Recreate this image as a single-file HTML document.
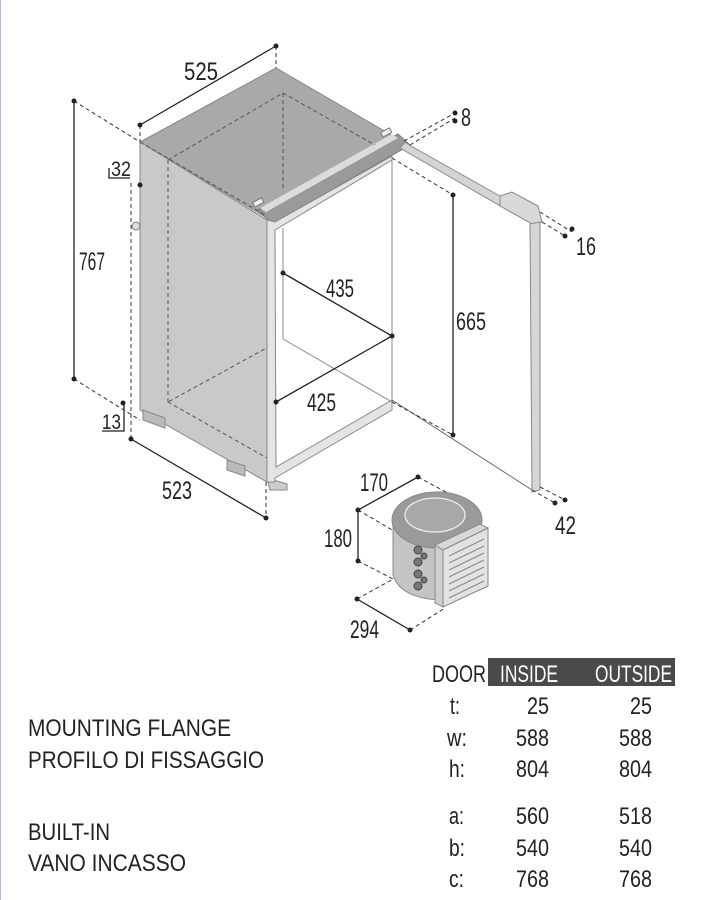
<!DOCTYPE html>
<html><head><meta charset="utf-8"><style>
html,body{margin:0;padding:0;background:#fff;width:702px;height:900px;overflow:hidden}
svg{display:block}
text{font-family:"Liberation Sans",sans-serif;fill:#222}
</style></head><body>
<svg width="702" height="900" viewBox="0 0 702 900" xmlns="http://www.w3.org/2000/svg">
<line x1="0.5" y1="0" x2="0.5" y2="900" stroke="#b8bcd0" stroke-width="1"/>
<polygon points="140,142 267,220 267,482 140,410" fill="#c9c9c9" stroke="#888" stroke-width="1"/>
<polygon points="143,410 165,418 165,428 143,420" fill="#bbb" stroke="#888"/>
<polygon points="227,460 245,466 245,476 227,470" fill="#bbb" stroke="#888"/>
<polygon points="267,478 287,484 287,490 270,490" fill="#ccc" stroke="#888"/>
<polygon points="140,142 276,68 400,140 267,218" fill="#a9a9a9" stroke="#888"/>
<polygon points="258,210 398,134 410,145 272,224" fill="#9a9a9a" stroke="#777"/>
<polygon points="260,208 392,134 398,138 266,212" fill="#dcdcdc"/>
<rect x="253" y="200" width="10" height="5" fill="#eee" stroke="#777" transform="rotate(-28 258 202)"/>
<rect x="381" y="130" width="10" height="5" fill="#eee" stroke="#777" transform="rotate(-28 386 132)"/>
<g stroke="#555" stroke-width="1" stroke-dasharray="4,3" fill="none">
<polyline points="168,160 283,93 375,145"/>
<line x1="283" y1="93" x2="283" y2="190"/>
<line x1="168" y1="160" x2="168" y2="402"/>
<polyline points="168,402 267,458"/>
<line x1="140" y1="142" x2="267" y2="216"/>
<line x1="283" y1="339" x2="168" y2="402"/>
</g>
<polygon points="267,220 275,222 392,156 392,410 275,478 275,482 267,482" fill="#e4e4e4" stroke="#888"/>
<polygon points="275,230 392,160 392,400 276,467" fill="#fff" stroke="#888"/>
<line x1="283" y1="228" x2="283" y2="339" stroke="#888"/>
<line x1="283" y1="339" x2="392" y2="402" stroke="#888"/>
<line x1="392" y1="400" x2="532" y2="490" stroke="#666"/>
<polygon points="405,142 411,146 507,200 502,207 400,148" fill="#d4d4d4" stroke="#888"/>
<polygon points="500,196 512,192 538,206 542,222 532,224 500,206" fill="#d8d8d8" stroke="#888"/>
<polygon points="530,224 540,222 540,490 532,492" fill="#d6d6d6" stroke="#888"/>
<circle cx="136" cy="226" r="4" fill="#ddd" stroke="#777"/>
<g stroke="#222" stroke-width="1.3" fill="none">
<line x1="140" y1="125" x2="276" y2="46"/>
<line x1="74" y1="101" x2="74" y2="379"/>
<line x1="131" y1="439" x2="266" y2="518"/>
<line x1="283" y1="273" x2="392" y2="336"/>
<line x1="276" y1="402" x2="392" y2="336"/>
<line x1="453" y1="195" x2="453" y2="435"/>
<line x1="358" y1="510" x2="418" y2="477"/>
<line x1="358" y1="510" x2="358" y2="561"/>
<line x1="357" y1="599" x2="410" y2="630"/>
<polyline points="109,168 109,178 130,178"/>
<polyline points="124,405 124,431 102,431"/>
</g>
<g stroke="#333" stroke-width="1" stroke-dasharray="4,3" fill="none">
<line x1="276" y1="46" x2="276" y2="68"/>
<line x1="140" y1="125" x2="140" y2="142"/>
<line x1="74" y1="101" x2="140" y2="142"/>
<line x1="74" y1="379" x2="140" y2="420"/>
<line x1="131" y1="183" x2="131" y2="439"/>
<line x1="266" y1="482" x2="266" y2="518"/>
<line x1="392" y1="158" x2="453" y2="195"/>
<line x1="392" y1="402" x2="453" y2="435"/>
<line x1="410" y1="145" x2="455" y2="118"/>
<line x1="404" y1="141" x2="455" y2="113"/>
<line x1="540" y1="212" x2="572" y2="232"/>
<line x1="542" y1="222" x2="565" y2="236"/>
<line x1="540" y1="487" x2="565" y2="500"/>
<line x1="532" y1="490" x2="555" y2="503"/>
<line x1="418" y1="477" x2="470" y2="505"/>
<line x1="358" y1="510" x2="435" y2="555"/>
<line x1="358" y1="561" x2="395" y2="580"/>
<line x1="357" y1="599" x2="395" y2="578"/>
<line x1="410" y1="630" x2="445" y2="608"/>
</g>
<g fill="#222">
<circle cx="140" cy="125" r="2.5"/><circle cx="276" cy="46" r="2.5"/>
<circle cx="74" cy="101" r="2.5"/><circle cx="74" cy="379" r="2.5"/>
<circle cx="131" cy="439" r="2.5"/><circle cx="266" cy="518" r="2.5"/>
<circle cx="283" cy="273" r="2.5"/><circle cx="392" cy="336" r="2.5"/><circle cx="276" cy="402" r="2.5"/>
<circle cx="453" cy="195" r="2.5"/><circle cx="453" cy="435" r="2.5"/>
<circle cx="455" cy="113" r="2.5"/><circle cx="455" cy="121" r="2.5"/>
<circle cx="140" cy="185" r="2.5"/><circle cx="123" cy="403" r="2.5"/>
<circle cx="572" cy="229" r="2.5"/><circle cx="565" cy="236" r="2.5"/>
<circle cx="565" cy="500" r="2.5"/><circle cx="555" cy="503" r="2.5"/>
<circle cx="358" cy="510" r="2.5"/><circle cx="418" cy="477" r="2.5"/><circle cx="358" cy="561" r="2.5"/>
<circle cx="357" cy="599" r="2.5"/><circle cx="410" cy="630" r="2.5"/>
</g>
<path d="M393,520 L393,575 Q400,598 440,600 L440,548 Z" fill="#c4c4c4" stroke="#888"/>
<ellipse cx="437" cy="520" rx="45" ry="28" fill="#9a9a9a" stroke="#888"/>
<ellipse cx="435" cy="515" rx="30" ry="17" fill="#a8a8a8" stroke="#eee" stroke-width="1.3"/>
<g fill="#777" stroke="#444"><circle cx="418" cy="550" r="4"/><circle cx="418" cy="562" r="4"/><circle cx="418" cy="574" r="4"/><circle cx="418" cy="586" r="4"/><circle cx="424" cy="556" r="3"/><circle cx="424" cy="580" r="3"/></g>
<polygon points="435,545 480,524 488,528 443,550" fill="#d8d8d8" stroke="#888"/>
<polygon points="435,545 443,550 443,607 435,603" fill="#cfcfcf" stroke="#888"/>
<polygon points="443,550 488,528 488,586 443,607" fill="#e2e2e2" stroke="#888"/>
<g stroke="#888"><line x1="449" y1="556" x2="484" y2="539"/><line x1="449" y1="563" x2="484" y2="546"/><line x1="449" y1="570" x2="484" y2="553"/><line x1="449" y1="577" x2="484" y2="560"/><line x1="449" y1="584" x2="484" y2="567"/><line x1="449" y1="591" x2="484" y2="574"/><line x1="449" y1="598" x2="484" y2="581"/></g>
<g font-size="25">
<text x="184" y="80" textLength="34" lengthAdjust="spacingAndGlyphs">525</text>
<text x="79" y="270" textLength="26" lengthAdjust="spacingAndGlyphs">767</text>
<text x="111" y="176" font-size="21" textLength="20" lengthAdjust="spacingAndGlyphs">32</text>
<text x="102" y="429" font-size="21" textLength="19" lengthAdjust="spacingAndGlyphs">13</text>
<text x="162" y="499" textLength="30" lengthAdjust="spacingAndGlyphs">523</text>
<text x="326" y="297" textLength="28" lengthAdjust="spacingAndGlyphs">435</text>
<text x="307" y="411" textLength="29" lengthAdjust="spacingAndGlyphs">425</text>
<text x="456" y="330" textLength="30" lengthAdjust="spacingAndGlyphs">665</text>
<text x="461" y="126" textLength="10" lengthAdjust="spacingAndGlyphs">8</text>
<text x="576" y="255" textLength="20" lengthAdjust="spacingAndGlyphs">16</text>
<text x="555" y="534" textLength="21" lengthAdjust="spacingAndGlyphs">42</text>
<text x="360" y="491" textLength="28" lengthAdjust="spacingAndGlyphs">170</text>
<text x="324" y="547" textLength="28" lengthAdjust="spacingAndGlyphs">180</text>
<text x="350" y="638" textLength="29" lengthAdjust="spacingAndGlyphs">294</text>
</g>
<rect x="488" y="658" width="187" height="28" fill="#4a4a4a"/>
<g font-size="24">
<text x="432" y="682" textLength="54" lengthAdjust="spacingAndGlyphs">DOOR</text>
<text x="500" y="682" style="fill:#fff" textLength="58" lengthAdjust="spacingAndGlyphs">INSIDE</text>
<text x="595" y="682" style="fill:#fff" textLength="77" lengthAdjust="spacingAndGlyphs">OUTSIDE</text>
<text x="28" y="736" textLength="203" lengthAdjust="spacingAndGlyphs">MOUNTING FLANGE</text>
<text x="28" y="768" textLength="236" lengthAdjust="spacingAndGlyphs">PROFILO DI FISSAGGIO</text>
<text x="28" y="840" textLength="82" lengthAdjust="spacingAndGlyphs">BUILT-IN</text>
<text x="28" y="871" textLength="158" lengthAdjust="spacingAndGlyphs">VANO INCASSO</text>
<g fill="#333">
<text x="450" y="714" textLength="10" lengthAdjust="spacingAndGlyphs">t:</text>
<text x="447" y="746" textLength="20" lengthAdjust="spacingAndGlyphs">w:</text>
<text x="449" y="777" textLength="16" lengthAdjust="spacingAndGlyphs">h:</text>
<text x="449" y="824" textLength="15" lengthAdjust="spacingAndGlyphs">a:</text>
<text x="449" y="856" textLength="16" lengthAdjust="spacingAndGlyphs">b:</text>
<text x="449" y="887" textLength="15" lengthAdjust="spacingAndGlyphs">c:</text>
</g>
<g>
<text x="527" y="714" textLength="22" lengthAdjust="spacingAndGlyphs">25</text><text x="630" y="714" textLength="22" lengthAdjust="spacingAndGlyphs">25</text>
<text x="516" y="746" textLength="33" lengthAdjust="spacingAndGlyphs">588</text><text x="619" y="746" textLength="33" lengthAdjust="spacingAndGlyphs">588</text>
<text x="516" y="777" textLength="33" lengthAdjust="spacingAndGlyphs">804</text><text x="619" y="777" textLength="33" lengthAdjust="spacingAndGlyphs">804</text>
<text x="516" y="824" textLength="33" lengthAdjust="spacingAndGlyphs">560</text><text x="619" y="824" textLength="33" lengthAdjust="spacingAndGlyphs">518</text>
<text x="516" y="856" textLength="33" lengthAdjust="spacingAndGlyphs">540</text><text x="619" y="856" textLength="33" lengthAdjust="spacingAndGlyphs">540</text>
<text x="516" y="887" textLength="33" lengthAdjust="spacingAndGlyphs">768</text><text x="619" y="887" textLength="33" lengthAdjust="spacingAndGlyphs">768</text>
</g>
</g>
</svg>
</body></html>
